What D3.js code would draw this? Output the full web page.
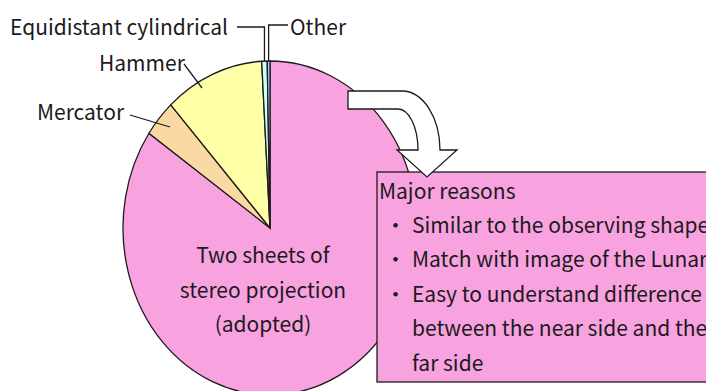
<!DOCTYPE html>
<html>
<head>
<meta charset="utf-8">
<script src="https://cdn.jsdelivr.net/npm/d3@7"></script>
<style>
  body { margin: 0; background: #fff; }
  svg { display: block; }
  text { font-family: "Noto Sans CJK JP", "Noto Sans", sans-serif; fill: #1c1a1c; font-size: 21px; }
</style>
</head>
<body>
<svg width="706" height="391"></svg>
<script>
// share of each projection, clockwise from 12 o'clock
var categories = ['Two sheets of stereo projection', 'Mercator', 'Hammer', 'Equidistant cylindrical', 'Other'];
var shares = [84.6, 3.6, 10.9, 0.6, 0.3];
var colors = ['#f9a2e0', '#fbd9a2', '#ffffa8', '#ccfff6', '#9fd8ff'];

var centerLabel = ['Two sheets of', 'stereo projection', '(adopted)'];
var boxTitle = 'Major reasons';
var reasons = [
  ['Similar to the observing shape'],
  ['Match with image of the Lunar'],
  ['Easy to understand difference', 'between the near side and the', 'far side']
];

var svg = d3.select('svg');
var cx = 270, cy = 228, rx = 147, ry = 167;

var pie = d3.pie().sort(null).value(function (d) { return d; });
var arc = d3.arc().innerRadius(0).outerRadius(ry);
var arcs = pie(shares);

var g = svg.append('g')
  .attr('transform', 'translate(' + cx + ',' + cy + ') scale(' + (rx / ry) + ',1)');

g.selectAll('path')
  .data(arcs)
  .enter()
  .append('path')
  .attr('d', arc)
  .attr('fill', function (d, i) { return colors[i]; })
  .attr('stroke', '#1e1a1e')
  .attr('stroke-width', 1.3)
  .attr('vector-effect', 'non-scaling-stroke');

// edge point of a slice on the ellipse
function edge(d, k) {
  var a = (d.startAngle + d.endAngle) / 2;
  return [cx + Math.sin(a) * rx * k, cy - Math.cos(a) * ry * k];
}

// pie text
svg.append('g').selectAll('text')
  .data(centerLabel)
  .enter()
  .append('text')
  .attr('x', 263)
  .attr('y', function (d, i) { return 263 + i * 34.5; })
  .attr('text-anchor', 'middle')
  .text(function (d) { return d; });

// leader lines
var line = d3.line();
var eq = edge(arcs[3], 1), ot = edge(arcs[4], 1);
var leaders = [
  [[237, 27], [eq[0], 27], eq],
  [[288, 25], [ot[0], 25], ot],
  [[184, 64], [202, 88]],
  [[130, 115], [170, 127]]
];
svg.append('g').selectAll('path')
  .data(leaders)
  .enter()
  .append('path')
  .attr('d', line)
  .attr('fill', 'none')
  .attr('stroke', '#1e1a1e')
  .attr('stroke-width', 1.3);

var labels = [
  { t: categories[3], x: 10, y: 35 },
  { t: categories[4], x: 290, y: 35 },
  { t: categories[2], x: 99, y: 71 },
  { t: categories[1], x: 37, y: 120 }
];
svg.append('g').selectAll('text')
  .data(labels)
  .enter()
  .append('text')
  .attr('x', function (d) { return d.x; })
  .attr('y', function (d) { return d.y; })
  .text(function (d) { return d.t; });

// reasons box
svg.append('rect')
  .attr('x', 377).attr('y', 172)
  .attr('width', 340).attr('height', 210)
  .attr('fill', '#f9a2e0')
  .attr('stroke', '#1e1a1e')
  .attr('stroke-width', 1.3);

// arrow
svg.append('path')
  .attr('d', 'M348,91 L402,91 A38,59 0 0 1 440,150 L457,150 L427,177 L397,150 L418,150 ' +
             'A20,41 0 0 0 398,109 L348,109 Z')
  .attr('fill', '#fff')
  .attr('stroke', '#1e1a1e')
  .attr('stroke-width', 1.3);

svg.append('text')
  .attr('x', 379).attr('y', 199)
  .text(boxTitle);

var row = 1;
reasons.forEach(function (r) {
  svg.append('text')
    .attr('x', 385).attr('y', 198 + row * 34.6)
    .text('・');
  r.forEach(function (s) {
    svg.append('text')
      .attr('x', 412).attr('y', 198 + row * 34.6)
      .text(s);
    row++;
  });
});
</script>
</body>
</html>
